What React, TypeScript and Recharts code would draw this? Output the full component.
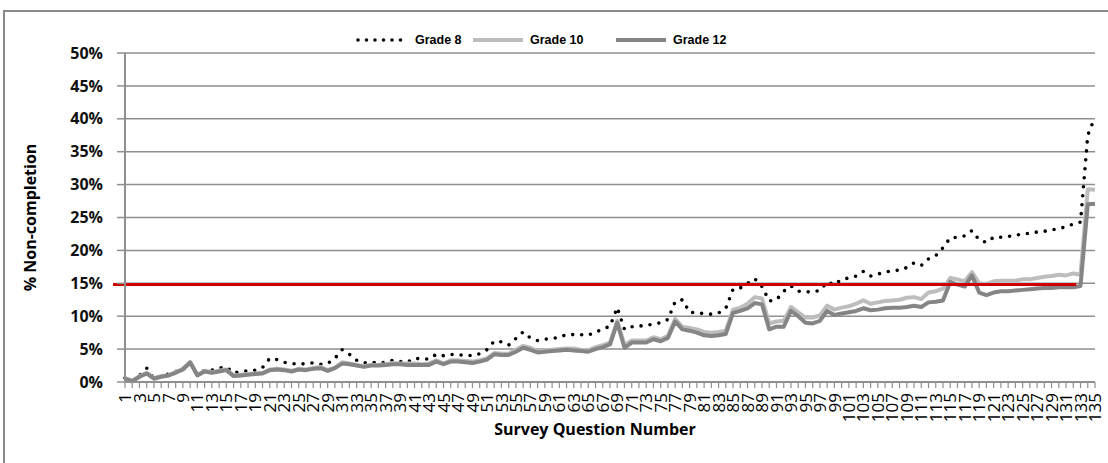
import { LineChart, Line, XAxis, YAxis, CartesianGrid, ReferenceLine } from "recharts"

// survey question numbers 1..135
const questions = Array.from({ length: 135 }, (_, i) => String(i + 1))

const grade8 = [
  0.6, 0.2, 1.0, 2.1, 0.5, 0.8, 1.2, 1.6, 2.0, 2.8, 1.2, 1.8, 1.8, 2.1, 2.3, 1.4, 1.6, 1.7, 1.8, 2.2,
  3.6, 3.4, 3.0, 2.8, 2.7, 2.8, 2.9, 2.7, 2.8, 3.6, 4.9, 4.2, 3.3, 2.9,
  3.0, 2.9, 3.0, 3.3, 3.1, 3.0, 3.6, 3.5, 3.5, 4.2, 4.0, 4.2, 4.1, 4.1, 4.0, 4.3, 4.9, 6.2, 6.1, 5.6,
  6.6, 7.6, 6.7, 6.3, 6.5, 6.6, 6.8, 7.2, 7.2, 7.2, 7.1, 7.6, 8.0, 8.5,
  11.3, 8.0, 8.4, 8.5, 8.6, 8.8, 9.0, 9.5, 12.2, 12.5, 10.6, 10.5, 10.4, 10.3, 10.5, 11.2, 14.1, 14.3, 15.0, 15.7,
  14.5, 12.3, 12.5, 13.8, 14.6, 13.8, 13.7, 13.7, 13.9, 15.2, 14.8, 15.6, 15.8, 16.1,
  16.8, 16.1, 16.4, 16.7, 16.9, 17.0, 17.4, 18.1, 17.7, 18.7, 19.2, 20.4, 21.9, 22.0, 22.2, 23.0, 21.6, 21.2, 22.0, 22.0,
  22.1, 22.3, 22.5, 22.6, 22.8, 22.9, 23.1, 23.3, 23.6, 24.0, 24.3, 37.5, 40.3,
]

const grade10 = [
  0.6, 0.2, 0.9, 1.4, 0.6, 0.9, 1.0, 1.5, 2.0, 3.0, 1.1, 1.7, 1.5, 1.7, 1.9, 1.0, 1.1, 1.2, 1.3, 1.4,
  1.9, 2.0, 1.9, 1.7, 2.0, 1.9, 2.1, 2.3, 1.8, 2.2, 3.0, 2.8, 2.6, 2.4,
  2.6, 2.6, 2.7, 2.9, 2.8, 2.8, 2.8, 2.7, 2.8, 3.3, 2.8, 3.3, 3.3, 3.2, 3.1, 3.3, 3.6, 4.4, 4.3, 4.3,
  4.9, 5.5, 5.2, 4.7, 4.8, 4.9, 5.0, 5.1, 5.1, 4.9, 4.8, 5.3, 5.6, 6.0,
  9.3, 5.6, 6.3, 6.3, 6.3, 6.8, 6.5, 7.0, 9.6, 8.4, 8.2, 8.0, 7.6, 7.5, 7.6, 7.8, 11.0, 11.3, 11.9, 12.9,
  12.7, 8.9, 9.2, 9.3, 11.4, 10.6, 9.8, 9.8, 10.1, 11.6, 11.0, 11.3, 11.5, 11.9,
  12.4, 11.9, 12.1, 12.3, 12.4, 12.5, 12.8, 12.9, 12.6, 13.6, 13.8, 14.2, 15.8, 15.6, 15.3, 16.7, 15.0, 14.9, 15.3, 15.4,
  15.4, 15.4, 15.6, 15.6, 15.8, 16.0, 16.1, 16.3, 16.2, 16.5, 16.3, 29.3, 29.2,
]

const grade12 = [
  0.5, 0.1, 0.8, 1.3, 0.5, 0.8, 1.0, 1.4, 1.9, 3.0, 1.0, 1.6, 1.4, 1.6, 1.8, 0.9, 1.0, 1.1, 1.2, 1.3,
  1.8, 1.9, 1.8, 1.6, 1.9, 1.8, 2.0, 2.1, 1.7, 2.1, 2.8, 2.7, 2.5, 2.3,
  2.5, 2.5, 2.6, 2.7, 2.7, 2.6, 2.6, 2.6, 2.6, 3.1, 2.7, 3.1, 3.1, 3.0, 2.9, 3.1, 3.4, 4.2, 4.1, 4.1,
  4.6, 5.2, 4.9, 4.5, 4.6, 4.7, 4.8, 4.9, 4.8, 4.7, 4.6, 5.0, 5.3, 5.7,
  9.0, 5.2, 6.0, 6.0, 6.0, 6.5, 6.2, 6.7, 9.2, 8.0, 7.8, 7.5, 7.1, 7.0, 7.1, 7.3, 10.5, 10.8, 11.2, 12.0,
  11.8, 8.0, 8.4, 8.4, 10.8, 10.0, 9.0, 8.9, 9.3, 10.8, 10.2, 10.4, 10.6, 10.8,
  11.2, 10.9, 11.0, 11.2, 11.3, 11.3, 11.4, 11.6, 11.4, 12.1, 12.2, 12.4, 15.2, 14.8, 14.5, 16.2, 13.6, 13.2, 13.6, 13.8,
  13.8, 13.9, 14.0, 14.1, 14.2, 14.3, 14.3, 14.4, 14.4, 14.4, 14.6, 27.0, 27.1,
]

const yTicks = [0, 5, 10, 15, 20, 25, 30, 35, 40, 45, 50]

// red 15% marker, drawn from question 1 to question 132
const threshold = 14.8
const thresholdFrom = "1"
const thresholdTo = "132"

const data = questions.map((q, i) => ({ q, g8: grade8[i], g10: grade10[i], g12: grade12[i] }))

const series = [
  { key: "g8", name: "Grade 8", color: "#000000", width: 3.6, dash: "0 9", legendX: 355 },
  { key: "g10", name: "Grade 10", color: "#bdbdbd", width: 4, dash: undefined, legendX: 470 },
  { key: "g12", name: "Grade 12", color: "#858585", width: 4, dash: undefined, legendX: 613 },
]

const gridGray = "#8f8f8f"
const boldFont = "'Open Sans', sans-serif"

function QuestionTick({ x, y, payload }: any) {
  const n = Number(payload.value)
  if (n % 2 === 0) return <g />
  return (
    <text
      x={x}
      y={y}
      dy="0.36em"
      transform={`rotate(-90, ${x}, ${y})`}
      textAnchor="end"
      fontSize={17}
      fontFamily="'Open Sans', sans-serif"
      fill="#000"
    >
      {payload.value}
    </text>
  )
}

function YTitle({ viewBox }: any) {
  const cx = viewBox.x + 30
  const cy = viewBox.y + viewBox.height / 2
  return (
    <text
      x={cx}
      y={cy}
      transform={`rotate(-90, ${cx}, ${cy})`}
      textAnchor="middle"
      dominantBaseline="central"
      fontSize={16}
      fontWeight={700}
      fontFamily={boldFont}
      fill="#000"
    >
      % Non-completion
    </text>
  )
}

function XTitle({ viewBox }: any) {
  return (
    <text
      x={viewBox.x + viewBox.width / 2 - 15}
      y={viewBox.y + 53}
      textAnchor="middle"
      fontSize={16}
      fontWeight={700}
      fontFamily={boldFont}
      fill="#000"
    >
      Survey Question Number
    </text>
  )
}

function RedLine(props: any) {
  const { x1, y1, x2, y2 } = props
  return <line x1={x1 - 12} y1={y1} x2={x2 + 3} y2={y2} stroke="#cc0000" strokeWidth={3} />
}

export default function App() {
  return (
    <div style={{ position: "absolute", left: 0, top: 0, width: 1108, height: 463, background: "#fff", overflow: "hidden" }}>
      <div
        style={{
          position: "absolute",
          left: 3,
          top: 10,
          width: 1120,
          height: 470,
          border: "2px solid #8a8a8a",
        }}
      />
      {series.map((s) => (
        <div
          key={s.key}
          style={{
            position: "absolute",
            left: s.legendX,
            top: 33,
            display: "flex",
            alignItems: "center",
            fontFamily: "'Liberation Sans', Arial, sans-serif",
            fontWeight: 700,
            fontSize: 12.5,
            color: "#000",
          }}
        >
          <svg width={56} height={12}>
            <line
              x1={3}
              y1={6}
              x2={53}
              y2={6}
              stroke={s.color}
              strokeWidth={s.width}
              strokeDasharray={s.dash ? "0 8.5" : undefined}
              strokeLinecap={s.dash ? "round" : "butt"}
            />
          </svg>
          <span style={{ marginLeft: 4 }}>{s.name}</span>
        </div>
      ))}
      <LineChart
        width={1108}
        height={463}
        data={data}
        margin={{ top: 53, right: 13, bottom: 0, left: 0 }}
        style={{ position: "absolute", left: 0, top: 0 }}
      >
        <CartesianGrid vertical={false} stroke={gridGray} strokeWidth={1.5} />
        <XAxis
          dataKey="q"
          interval={0}
          height={81}
          tick={<QuestionTick />}
          tickSize={6}
          tickMargin={5}
          tickLine={{ stroke: gridGray, strokeWidth: 1.2 }}
          axisLine={{ stroke: gridGray, strokeWidth: 2 }}
          label={<XTitle />}
        />
        <YAxis
          width={125}
          domain={[0, 50]}
          ticks={yTicks}
          interval={0}
          tickFormatter={(v: number) => `${v}%`}
          tickSize={8}
          tickMargin={14}
          tick={{ fontSize: 16, fontWeight: 700, fontFamily: boldFont, fill: "#111" }}
          tickLine={{ stroke: gridGray, strokeWidth: 1.5 }}
          axisLine={{ stroke: gridGray, strokeWidth: 2 }}
          label={<YTitle />}
        />
        {series.map((s) => (
          <Line
            key={s.key}
            type="linear"
            dataKey={s.key}
            name={s.name}
            stroke={s.color}
            strokeWidth={s.width}
            strokeDasharray={s.dash}
            strokeLinecap={s.dash ? "round" : "butt"}
            strokeLinejoin="round"
            dot={false}
            activeDot={false}
            isAnimationActive={false}
          />
        ))}
        <ReferenceLine
          segment={[
            { x: thresholdFrom, y: threshold },
            { x: thresholdTo, y: threshold },
          ]}
          ifOverflow="visible"
          shape={<RedLine />}
        />
      </LineChart>
    </div>
  )
}
